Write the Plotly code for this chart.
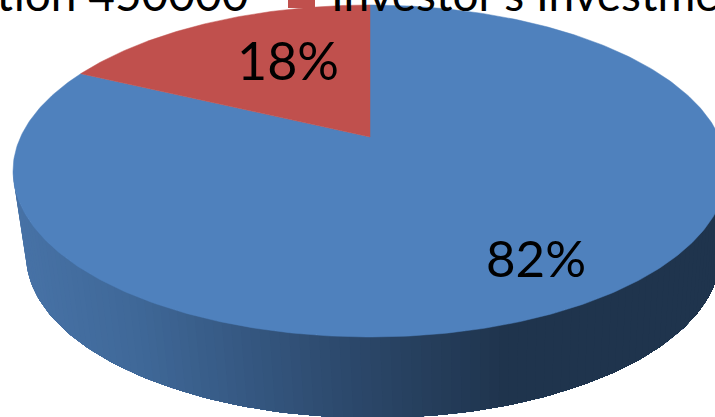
import numpy as np
import plotly.graph_objects as go

categories = ["Contribution 450000", "Investor's Investment"]
shares = [18, 82]
share_labels = ["18%", "82%"]
slice_colors = ["#C0504D", "#4F81BD"]

W, H = 715, 417
CX, CY, A, B = 370, 171, 357, 166          # top ellipse
BX, BY, BA, BB = 373, 255, 347, 163        # bottom ellipse (perspective)
APEX_E = 0.205                             # apex offset inside the ellipse

# wall shading: x position -> colour
wall_x = [14, 130, 330, 500, 730]
wall_rgb = [(71, 114, 166), (63, 104, 152), (45, 74, 110), (31, 52, 77), (31, 52, 77)]


def rim(turn):
    """Rim point for a fraction of the circle measured from the apex (clockwise)."""
    t = 2 * np.pi * turn
    d = np.array([np.sin(t), np.cos(t)])
    p = np.array([0.0, APEX_E])
    b = p @ d
    s = -b + np.sqrt(b * b - (p @ p - 1))
    q = p + s * d
    return CX + A * q[0], CY - B * q[1]


def sector(start, end, n=160):
    pts = [rim(u) for u in np.linspace(start, end, n)]
    xs = [CX] + [p[0] for p in pts] + [CX]
    ys = [CY - B * APEX_E] + [p[1] for p in pts] + [CY - B * APEX_E]
    return xs, ys


fig = go.Figure()


def poly(xs, ys, color, width=0.0):
    fig.add_trace(go.Scatter(x=xs, y=ys, mode="lines", fill="toself", fillcolor=color,
                             line=dict(color=color, width=width), hoverinfo="skip",
                             showlegend=False))


# side wall: painter's order, each band reaches the far right end, the next paints over it
angles = np.radians(np.linspace(270, 90, 111))
for k in range(len(angles) - 1):
    seg = np.linspace(angles[k], 90 * np.pi / 180, max(4, (len(angles) - k)))
    tx = CX + A * np.sin(seg)
    ty = CY - B * np.cos(seg)
    bx = BX + BA * np.sin(seg)
    by = BY - BB * np.cos(seg)
    xs = list(tx) + list(bx[::-1]) + [tx[0]]
    ys = list(ty) + list(by[::-1]) + [ty[0]]
    left = float(tx[0])
    rgb = [int(round(np.interp(left, wall_x, [c[i] for c in wall_rgb]))) for i in range(3)]
    poly(xs, ys, f"rgb({rgb[0]},{rgb[1]},{rgb[2]})")

# top faces: slices run anticlockwise from 12 o'clock for the first share
total = sum(shares)
red = shares[0] / total
xs, ys = sector(0, 1 - red, 400)
poly(xs, ys, slice_colors[1], 0.5)
xs, ys = sector(1 - red, 1, 120)
poly(xs, ys, slice_colors[0], 0.5)

# legend swatch
poly([288, 315, 315, 288, 288], [0, 0, 8, 8, 0], slice_colors[0])

FONT = "Lato, 'Open Sans', sans-serif"
annotations = [
    dict(x=288, y=1 - 60 / H, text=share_labels[0], size=52, xanchor="center"),
    dict(x=536, y=1 - 257 / H, text=share_labels[1], size=51, xanchor="center"),
    dict(x=250, y=1 + 7 / H, text=categories[0], size=46, xanchor="right"),
    dict(x=329, y=1 + 7 / H, text=categories[1], size=46, xanchor="left"),
]
for an in annotations:
    size = an.pop("size")
    an.update(showarrow=False, yref="paper", yanchor="middle",
              font=dict(family=FONT, size=size, color="#000000"))

fig.update_layout(
    width=W, height=H, margin=dict(l=0, r=0, t=0, b=0),
    paper_bgcolor="white", plot_bgcolor="white",
    xaxis=dict(range=[0, W], visible=False, fixedrange=True),
    yaxis=dict(range=[H, 0], visible=False, fixedrange=True),
    annotations=annotations,
)
fig.write_html("out.html", config=dict(displayModeBar=False),
               default_width=W, default_height=H,
               post_script="document.body.style.margin='0';document.documentElement.style.overflow='hidden';")
